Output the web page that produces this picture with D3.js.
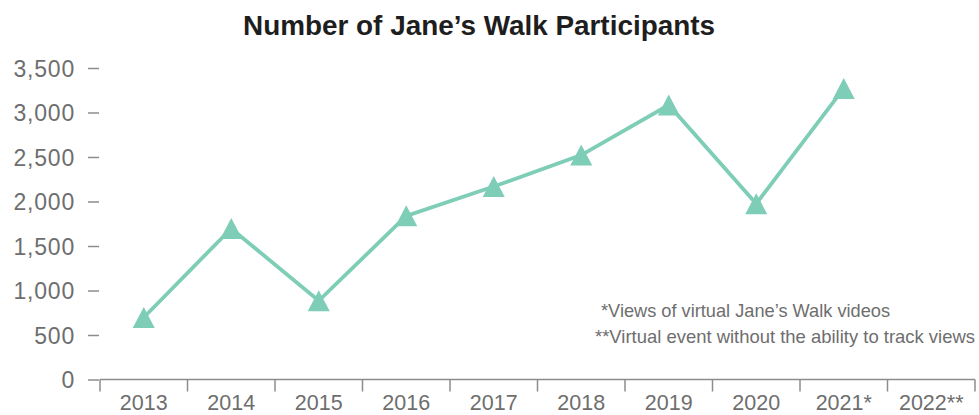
<!DOCTYPE html>
<html>
<head>
<meta charset="utf-8">
<script src="https://cdn.jsdelivr.net/npm/d3@7"></script>
<style>
  html, body { margin: 0; padding: 0; background: #fff; }
  svg { display: block; font-family: "Liberation Sans", Arial, sans-serif; }
</style>
</head>
<body>
<svg id="chart" width="979" height="415"></svg>
<script>
const years = ["2013", "2014", "2015", "2016", "2017", "2018", "2019", "2020", "2021*", "2022**"];
const participants = [697, 1697, 884, 1839, 2168, 2522, 3084, 1975, 3270, null];
const yTicks = [0, 500, 1000, 1500, 2000, 2500, 3000, 3500];
const title = "Number of Jane’s Walk Participants";
const notes = ["*Views of virtual Jane’s Walk videos", "**Virtual event without the ability to track views"];

const svg = d3.select("#chart");
const axisColor = "#8c8c8c";
const textColor = "#6e6e6e";
const lineColor = "#7ecdb6";

const x = d3.scaleBand().domain(years).range([100, 975]).padding(0);
const y = d3.scaleLinear().domain([0, 3500]).range([379.5, 68]);

// title
svg.append("text")
  .attr("x", 243).attr("y", 35)
  .attr("textLength", 472).attr("lengthAdjust", "spacingAndGlyphs")
  .attr("font-size", 28).attr("font-weight", "bold").attr("fill", "#1e1e1e")
  .text(title);

// y axis (ticks only)
const yAxis = svg.append("g").attr("transform", "translate(99,0)")
  .call(d3.axisLeft(y).tickValues(yTicks).tickSize(11).tickPadding(13)
    .tickFormat(d3.format(",")));
yAxis.select(".domain").remove();
yAxis.selectAll("line").attr("stroke", axisColor).attr("stroke-width", 1.5);
yAxis.selectAll("text").attr("font-size", 23).attr("fill", textColor)
  .attr("font-family", "Liberation Sans, Arial, sans-serif").attr("letter-spacing", 0.8)
  .attr("dy", "0.36em");

// x axis
const xAxisG = svg.append("g");
xAxisG.append("line")
  .attr("x1", x.range()[0]).attr("x2", x.range()[1])
  .attr("y1", y(0)).attr("y2", y(0))
  .attr("stroke", axisColor).attr("stroke-width", 1.5);
const boundaries = years.map(d => x(d)).concat([x(years[years.length - 1]) + x.bandwidth()]);
xAxisG.selectAll("line.tick").data(boundaries).enter().append("line")
  .attr("class", "tick")
  .attr("x1", d => d).attr("x2", d => d)
  .attr("y1", y(0)).attr("y2", y(0) + 12)
  .attr("stroke", axisColor).attr("stroke-width", 1.5);
xAxisG.selectAll("text").data(years).enter().append("text")
  .attr("x", d => x(d) + x.bandwidth() / 2).attr("y", 410)
  .attr("text-anchor", "middle").attr("font-size", 21.5).attr("fill", textColor)
  .text(d => d);

// line
const pts = years.map((d, i) => ({ year: d, v: participants[i] })).filter(d => d.v != null);
const line = d3.line().x(d => x(d.year) + x.bandwidth() / 2).y(d => y(d.v));
svg.append("path").datum(pts)
  .attr("d", line).attr("fill", "none")
  .attr("stroke", lineColor).attr("stroke-width", 3.8).attr("stroke-linejoin", "miter");

// triangle markers
svg.selectAll("path.marker").data(pts).enter().append("path")
  .attr("class", "marker")
  .attr("d", "M0,-10.5L11,10.5L-11,10.5Z")
  .attr("transform", d => `translate(${x(d.year) + x.bandwidth() / 2},${y(d.v)})`)
  .attr("fill", lineColor);

// notes
svg.append("text").attr("x", 601).attr("y", 317)
  .attr("textLength", 289).attr("lengthAdjust", "spacingAndGlyphs")
  .attr("font-size", 18.5).attr("fill", textColor).text(notes[0]);
svg.append("text").attr("x", 595).attr("y", 343)
  .attr("textLength", 380).attr("lengthAdjust", "spacingAndGlyphs")
  .attr("font-size", 18.5).attr("fill", textColor).text(notes[1]);
</script>
</body>
</html>
